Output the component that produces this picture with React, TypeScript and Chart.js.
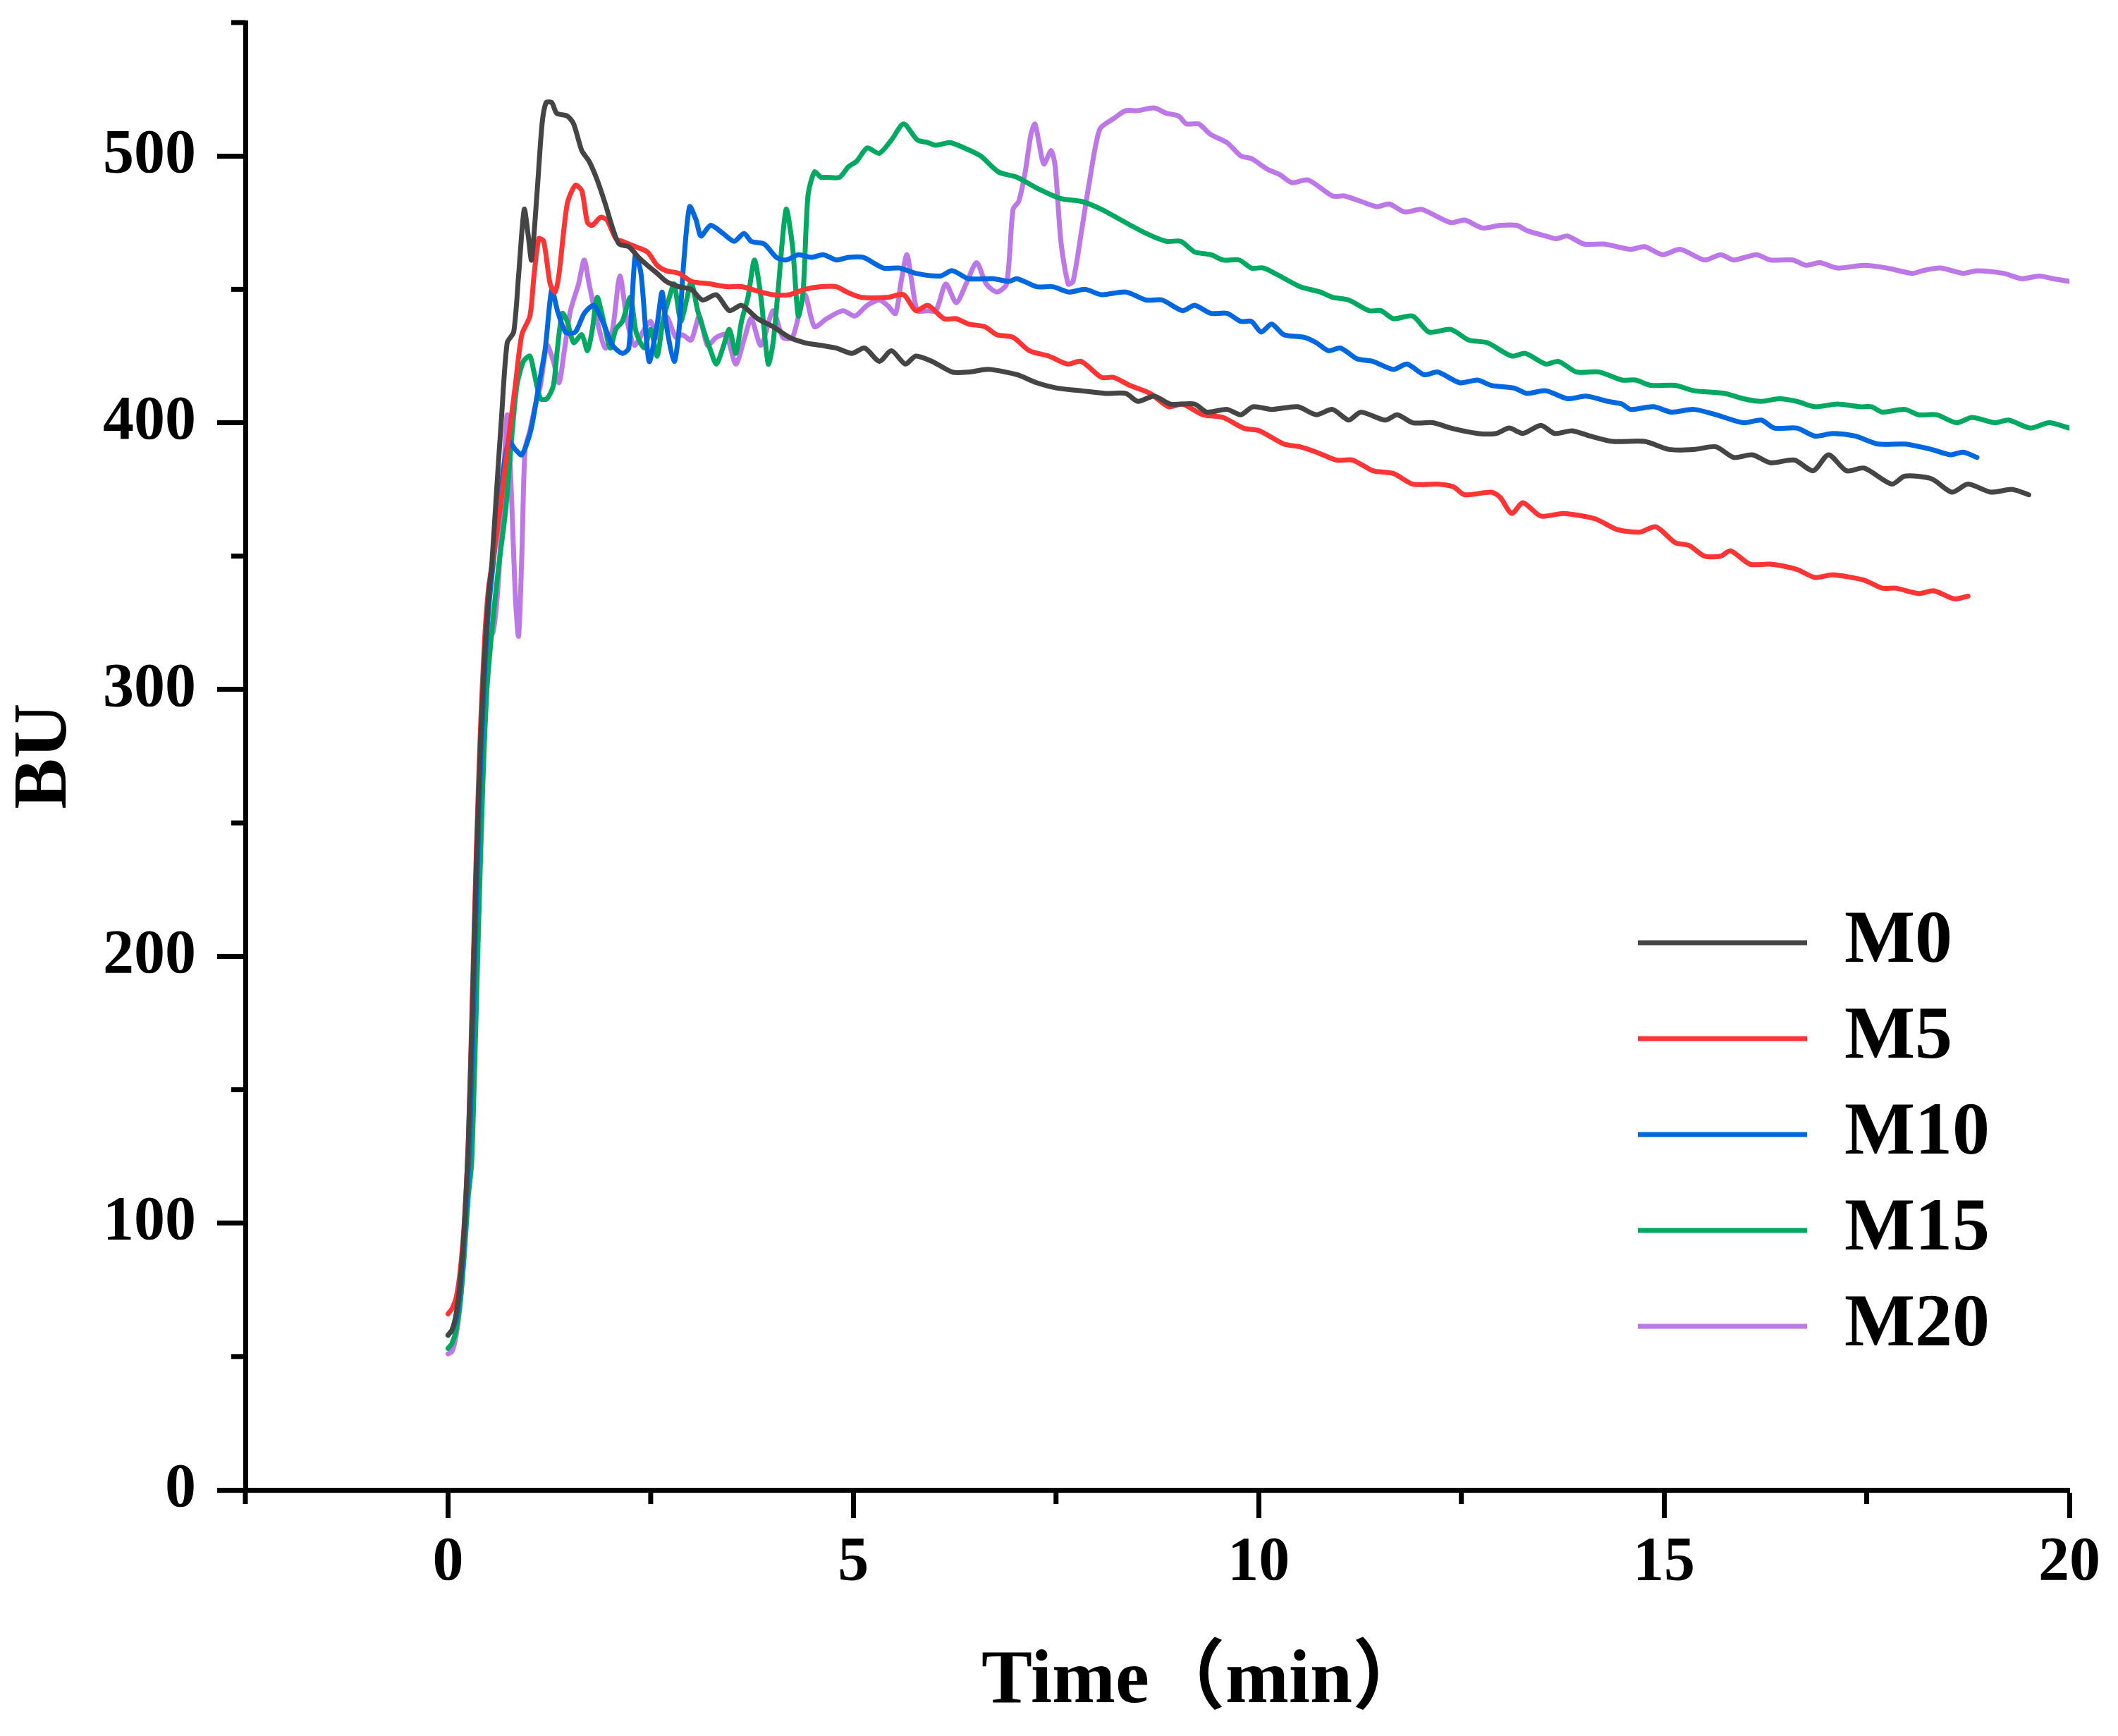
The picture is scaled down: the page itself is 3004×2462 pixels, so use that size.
import React, { useEffect, useRef } from "react";
import { Chart, registerables } from "chart.js";

Chart.register(...registerables);

// ---------- data ----------
const SERIES_NAMES = ["M0", "M5", "M10", "M15", "M20"];
const SERIES_COLORS = ["#454545", "#ff3535", "#0068de", "#00a862", "#bc78e6"];

const M0: [number, number][] = [
  [0, 58], [0.05, 60], [0.1, 66], [0.15, 78], [0.2, 98], [0.25, 130], [0.3, 180], [0.35, 235], [0.4, 280], [0.45, 312],
  [0.5, 335], [0.54, 347], [0.6, 375], [0.66, 402], [0.73, 430], [0.81, 434], [0.87, 455], [0.94, 480], [0.99, 470], [1.03, 461],
  [1.1, 487], [1.16, 512], [1.21, 520], [1.28, 520], [1.34, 516], [1.47, 515], [1.55, 512], [1.65, 502], [1.74, 498], [1.84, 491],
  [1.94, 482], [2.03, 473], [2.11, 467], [2.23, 466], [2.35, 462], [2.46, 459], [2.58, 456], [2.69, 453], [2.85, 451], [3.0, 450],
  [3.14, 446], [3.31, 448], [3.47, 442], [3.62, 444], [3.82, 439], [4.01, 436], [4.21, 432], [4.4, 430], [4.6, 429], [4.79, 428],
  [4.98, 426], [5.14, 428], [5.32, 423], [5.47, 427], [5.64, 422], [5.77, 425], [5.97, 423], [6.22, 419], [6.42, 419], [6.67, 420],
  [7.02, 418], [7.26, 415], [7.51, 413], [7.81, 412], [8.11, 411], [8.36, 411], [8.51, 408], [8.71, 410], [8.91, 407], [9.21, 407],
  [9.36, 404], [9.61, 405], [9.78, 403], [9.93, 406], [10.16, 405], [10.48, 406], [10.71, 403], [10.91, 405], [11.11, 401], [11.26, 404],
  [11.56, 401], [11.71, 403], [11.9, 400], [12.15, 400], [12.37, 398], [12.7, 396], [12.93, 396], [13.09, 398], [13.26, 396], [13.48, 399],
  [13.65, 396], [13.87, 397], [14.09, 395], [14.37, 393], [14.76, 393], [15.06, 390], [15.37, 390], [15.64, 391], [15.86, 387], [16.09, 388],
  [16.31, 385], [16.61, 386], [16.84, 382], [17.03, 388], [17.25, 382], [17.47, 383], [17.81, 377], [17.97, 380], [18.3, 379], [18.55, 374],
  [18.75, 377], [19.03, 374], [19.3, 375], [19.5, 373],
];

const M5: [number, number][] = [
  [0, 66], [0.05, 68], [0.1, 72], [0.15, 82], [0.2, 100], [0.25, 130], [0.3, 185], [0.35, 240], [0.4, 285], [0.45, 318],
  [0.5, 338], [0.56, 350], [0.64, 367], [0.73, 390], [0.83, 414], [0.91, 433], [1.01, 440], [1.06, 455], [1.12, 469], [1.18, 468],
  [1.26, 452], [1.32, 449], [1.37, 456], [1.47, 482], [1.57, 489], [1.65, 487], [1.72, 475], [1.78, 474], [1.88, 477], [1.96, 476],
  [2.07, 469], [2.15, 468], [2.31, 466], [2.46, 464], [2.58, 459], [2.69, 457], [2.85, 456], [3.0, 453], [3.24, 452], [3.43, 451],
  [3.62, 451], [3.86, 449], [4.01, 448], [4.21, 448], [4.4, 450], [4.6, 451], [4.79, 451], [4.92, 449], [5.1, 447], [5.42, 447],
  [5.62, 448], [5.77, 442], [5.92, 444], [6.12, 439], [6.27, 439], [6.42, 437], [6.62, 436], [6.77, 433], [6.97, 432], [7.17, 427],
  [7.41, 425], [7.64, 422], [7.81, 423], [8.06, 417], [8.21, 417], [8.41, 414], [8.66, 411], [8.89, 406], [9.06, 407], [9.31, 403],
  [9.56, 402], [9.81, 398], [10.01, 397], [10.31, 392], [10.51, 391], [10.71, 389], [10.96, 386], [11.16, 386], [11.41, 382], [11.66, 381],
  [11.9, 377], [12.2, 377], [12.4, 376], [12.54, 373], [12.87, 374], [12.98, 372], [13.12, 366], [13.26, 370], [13.48, 365], [13.76, 366],
  [14.15, 364], [14.42, 360], [14.7, 359], [14.9, 361], [15.14, 355], [15.31, 354], [15.5, 350], [15.7, 350], [15.82, 352], [16.06, 347],
  [16.31, 347], [16.64, 345], [16.86, 342], [17.08, 343], [17.47, 341], [17.69, 338], [17.86, 338], [18.14, 336], [18.33, 337], [18.58, 334],
  [18.75, 335],
];

const M10: [number, number][] = [
  [0, 58], [0.05, 60], [0.1, 64], [0.15, 75], [0.2, 95], [0.26, 125], [0.3, 165], [0.35, 220], [0.4, 270], [0.45, 305],
  [0.5, 330], [0.56, 348], [0.62, 365], [0.68, 382], [0.75, 393], [0.83, 390], [0.91, 388], [1.02, 397], [1.12, 414], [1.2, 428],
  [1.28, 450], [1.35, 442], [1.45, 434], [1.57, 434], [1.68, 441], [1.8, 444], [1.92, 437], [2.03, 429], [2.15, 426], [2.23, 428],
  [2.31, 463], [2.38, 456], [2.48, 423], [2.58, 437], [2.64, 449], [2.69, 437], [2.79, 423], [2.85, 435], [2.91, 461], [2.98, 481],
  [3.06, 476], [3.12, 470], [3.24, 474], [3.39, 471], [3.53, 468], [3.65, 471], [3.74, 468], [3.9, 467], [4.05, 462], [4.17, 461],
  [4.32, 463], [4.48, 462], [4.63, 463], [4.79, 461], [4.94, 462], [5.12, 462], [5.37, 458], [5.57, 458], [5.77, 456], [6.07, 455],
  [6.22, 457], [6.42, 454], [6.72, 454], [6.92, 453], [7.02, 454], [7.26, 451], [7.46, 451], [7.66, 449], [7.86, 450], [8.06, 448],
  [8.36, 449], [8.61, 446], [8.81, 446], [9.06, 442], [9.21, 444], [9.41, 441], [9.61, 441], [9.78, 438], [9.91, 438], [10.03, 434],
  [10.16, 437], [10.31, 433], [10.56, 432], [10.71, 430], [10.86, 427], [11.01, 428], [11.21, 424], [11.41, 423], [11.66, 420], [11.83, 422],
  [12.04, 418], [12.21, 419], [12.48, 415], [12.7, 416], [12.87, 414], [13.15, 413], [13.31, 411], [13.54, 412], [13.81, 409], [14.04, 410],
  [14.31, 408], [14.48, 407], [14.59, 405], [14.87, 406], [15.09, 404], [15.37, 405], [15.64, 403], [15.98, 400], [16.2, 401], [16.36, 398],
  [16.64, 398], [16.86, 395], [17.08, 396], [17.36, 395], [17.64, 392], [17.97, 392], [18.3, 390], [18.53, 388], [18.69, 389], [18.86, 387],
];

const M15: [number, number][] = [
  [0, 53], [0.05, 55], [0.1, 60], [0.15, 70], [0.2, 88], [0.25, 110], [0.29, 122], [0.33, 160], [0.38, 215], [0.43, 265],
  [0.48, 300], [0.55, 325], [0.62, 345], [0.71, 367], [0.79, 396], [0.85, 414], [0.93, 423], [1.01, 425], [1.06, 419], [1.14, 409],
  [1.22, 409], [1.3, 414], [1.35, 428], [1.41, 441], [1.47, 438], [1.55, 430], [1.65, 433], [1.72, 427], [1.78, 435], [1.84, 447],
  [1.92, 438], [2.0, 428], [2.07, 435], [2.15, 438], [2.25, 447], [2.32, 434], [2.42, 428], [2.5, 435], [2.58, 425], [2.65, 438],
  [2.73, 447], [2.79, 452], [2.87, 438], [2.95, 447], [3.0, 453], [3.08, 442], [3.16, 434], [3.24, 427], [3.31, 422], [3.39, 428],
  [3.47, 435], [3.55, 426], [3.62, 438], [3.7, 447], [3.78, 461], [3.86, 447], [3.95, 422], [4.01, 430], [4.07, 449], [4.17, 480],
  [4.25, 466], [4.32, 440], [4.38, 449], [4.44, 485], [4.52, 494], [4.6, 492], [4.67, 492], [4.83, 492], [4.94, 496], [5.04, 498],
  [5.17, 503], [5.32, 501], [5.47, 506], [5.62, 512], [5.79, 506], [5.92, 505], [6.02, 504], [6.19, 505], [6.37, 503], [6.57, 500],
  [6.79, 494], [7.02, 492], [7.26, 488], [7.56, 484], [7.81, 483], [8.06, 480], [8.36, 475], [8.61, 471], [8.86, 468], [9.04, 468],
  [9.21, 464], [9.41, 463], [9.56, 461], [9.76, 461], [9.91, 458], [10.06, 458], [10.26, 455], [10.51, 451], [10.76, 449], [10.91, 447],
  [11.11, 446], [11.36, 442], [11.51, 442], [11.66, 439], [11.9, 440], [12.1, 434], [12.37, 435], [12.59, 431], [12.82, 430], [13.12, 425],
  [13.29, 426], [13.54, 422], [13.7, 423], [13.92, 419], [14.2, 419], [14.48, 416], [14.65, 416], [14.84, 414], [15.14, 414], [15.37, 412],
  [15.75, 411], [15.98, 409], [16.2, 408], [16.42, 409], [16.64, 408], [16.86, 406], [17.14, 407], [17.42, 406], [17.56, 406], [17.69, 404],
  [17.97, 405], [18.14, 403], [18.36, 403], [18.61, 400], [18.8, 402], [19.08, 400], [19.25, 401], [19.52, 398], [19.75, 400], [20.0, 398],
];

const M20: [number, number][] = [
  [0, 51], [0.05, 52], [0.1, 58], [0.15, 70], [0.2, 90], [0.26, 122], [0.3, 160], [0.35, 215], [0.4, 265], [0.45, 300],
  [0.5, 318], [0.56, 322], [0.62, 340], [0.68, 375], [0.73, 403], [0.78, 375], [0.83, 335], [0.87, 320], [0.91, 350], [0.95, 390],
  [1.01, 397], [1.08, 407], [1.14, 414], [1.22, 429], [1.3, 423], [1.37, 415], [1.43, 426], [1.51, 442], [1.61, 452], [1.68, 461],
  [1.74, 452], [1.84, 438], [1.94, 428], [2.03, 435], [2.12, 455], [2.21, 438], [2.3, 429], [2.42, 435], [2.5, 438], [2.58, 432],
  [2.69, 440], [2.81, 432], [2.89, 433], [3.0, 431], [3.1, 440], [3.2, 429], [3.31, 432], [3.43, 433], [3.55, 422], [3.66, 432],
  [3.74, 439], [3.86, 429], [4.01, 442], [4.13, 432], [4.25, 432], [4.4, 448], [4.52, 436], [4.67, 439], [4.87, 442], [5.02, 440],
  [5.17, 444], [5.32, 446], [5.42, 444], [5.52, 441], [5.59, 453], [5.66, 463], [5.72, 453], [5.79, 442], [5.92, 442], [6.02, 442],
  [6.14, 452], [6.27, 445], [6.39, 452], [6.52, 460], [6.64, 452], [6.77, 449], [6.89, 452], [6.97, 480], [7.04, 483], [7.12, 494],
  [7.19, 508], [7.24, 512], [7.29, 505], [7.35, 497], [7.44, 502], [7.49, 496], [7.56, 468], [7.65, 452], [7.71, 453], [7.81, 471],
  [7.91, 490], [8.04, 510], [8.21, 514], [8.36, 517], [8.51, 517], [8.71, 518], [8.86, 516], [9.01, 515], [9.11, 512], [9.26, 512],
  [9.41, 508], [9.61, 505], [9.78, 500], [9.91, 499], [10.11, 495], [10.26, 493], [10.41, 490], [10.61, 491], [10.91, 485], [11.06, 485],
  [11.26, 483], [11.46, 481], [11.61, 482], [11.8, 479], [12.0, 480], [12.09, 479], [12.37, 475], [12.54, 476], [12.76, 473], [12.98, 474],
  [13.18, 474], [13.31, 472], [13.54, 470], [13.67, 469], [13.81, 470], [14.01, 467], [14.26, 467], [14.59, 465], [14.76, 466], [14.98, 463],
  [15.2, 465], [15.5, 461], [15.7, 463], [15.86, 461], [16.14, 463], [16.31, 461], [16.59, 461], [16.75, 459], [16.92, 460], [17.14, 458],
  [17.47, 459], [17.75, 458], [18.06, 456], [18.19, 457], [18.41, 458], [18.69, 456], [18.86, 457], [19.19, 456], [19.41, 454], [19.63, 455],
  [19.8, 454], [20.0, 453],
];

const SERIES_DATA = [M0, M5, M10, M15, M20];

const X_MIN = -2.5;
const X_MAX = 20;
const X_STEP = 2.5;
const X_MAJOR = 5;
const Y_MIN = 0;
const Y_MAX = 550;
const Y_STEP = 50;
const Y_MAJOR = 100;

// leading spaces only nudge the centred title to the right, as in the original
const X_TITLE = "     Time（min）";
const Y_TITLE = "BU";

// ---------- styling ----------
const W = 3004;
const H = 2462;
const FONT = "'Liberation Serif', 'Times New Roman', 'Noto Sans CJK SC', serif";
const MAJOR_LEN = 40;
const MINOR_LEN = 20;
const AXIS_W = 7;
const LINE_W = 7;

const isMajor = (v: number, step: number) => Math.abs(v / step - Math.round(v / step)) < 1e-6;

const minorTicksPlugin = {
  id: "minorTicks",
  afterDraw(chart: any) {
    const ctx = chart.ctx;
    const xs = chart.scales.x;
    const ys = chart.scales.y;
    ctx.save();
    ctx.strokeStyle = "#000";
    ctx.lineWidth = AXIS_W;
    ctx.lineCap = "butt";
    xs.ticks.forEach((t: any) => {
      if (isMajor(t.value, X_MAJOR)) return;
      const px = xs.getPixelForValue(t.value);
      ctx.beginPath();
      ctx.moveTo(px, xs.top);
      ctx.lineTo(px, xs.top + MINOR_LEN);
      ctx.stroke();
    });
    ys.ticks.forEach((t: any) => {
      if (isMajor(t.value, Y_MAJOR)) return;
      const py = ys.getPixelForValue(t.value);
      ctx.beginPath();
      ctx.moveTo(ys.right, py);
      ctx.lineTo(ys.right - MINOR_LEN, py);
      ctx.stroke();
    });
    ctx.restore();
  },
};

const legendPlacer = {
  id: "legendPlacer",
  afterLayout(chart: any) {
    const lg = chart.legend;
    if (!lg) return;
    lg.left = 2293;
    lg.top = 1254;
    lg.right = 3000;
    lg.bottom = 1995;
    lg.width = lg.right - lg.left;
    lg.height = lg.bottom - lg.top;
  },
};

export default function App() {
  const canvasRef = useRef<HTMLCanvasElement | null>(null);

  useEffect(() => {
    if (!canvasRef.current) return;
    const datasets = SERIES_NAMES.map((name, i) => ({
      label: name,
      data: SERIES_DATA[i].map(([x, y]) => ({ x, y })),
      borderColor: SERIES_COLORS[i],
      backgroundColor: SERIES_COLORS[i],
      borderWidth: LINE_W,
      pointRadius: 0,
      pointHoverRadius: 0,
      fill: false,
      tension: 0.25,
      borderJoinStyle: "round" as const,
      borderCapStyle: "round" as const,
    }));

    const chart = new Chart(canvasRef.current, {
      type: "line",
      data: { datasets },
      options: {
        responsive: true,
        maintainAspectRatio: false,
        devicePixelRatio: 1,
        animation: false,
        events: [],
        layout: { padding: { top: 32, right: 69, left: 0, bottom: 0 } },
        plugins: {
          tooltip: { enabled: false },
          legend: {
            display: true,
            position: "chartArea" as any,
            align: "start",
            labels: {
              boxWidth: 240,
              boxHeight: 7,
              padding: 30,
              color: "#000",
              font: { family: FONT, size: 106, weight: "bold" },
              generateLabels: (c: any) =>
                c.data.datasets.map((ds: any, i: number) => ({
                  text: ds.label,
                  fillStyle: ds.borderColor,
                  strokeStyle: ds.borderColor,
                  lineWidth: 0,
                  hidden: false,
                  datasetIndex: i,
                  fontColor: "#000",
                })),
            },
          },
        },
        scales: {
          x: {
            type: "linear",
            min: X_MIN,
            max: X_MAX,
            afterFit: (s: any) => {
              s.height = H - 2113;
            },
            ticks: {
              stepSize: X_STEP,
              autoSkip: false,
              maxRotation: 0,
              padding: 11,
              color: "#000",
              font: { family: FONT, size: 88, weight: "bold" },
              callback: (v: any) => (isMajor(Number(v), X_MAJOR) ? String(v) : ""),
            },
            grid: {
              display: true,
              drawOnChartArea: false,
              drawTicks: true,
              tickLength: MAJOR_LEN,
              tickWidth: AXIS_W,
              tickColor: (ctx: any) =>
                ctx.tick && isMajor(ctx.tick.value, X_MAJOR) ? "#000" : "rgba(0,0,0,0)",
            },
            border: { display: true, color: "#000", width: AXIS_W },
            title: {
              display: true,
              text: X_TITLE,
              color: "#000",
              font: { family: FONT, size: 108, weight: "bold" },
              padding: { top: 11, bottom: 11 },
            },
          },
          y: {
            type: "linear",
            min: Y_MIN,
            max: Y_MAX,
            afterFit: (s: any) => {
              s.width = 348;
            },
            ticks: {
              stepSize: Y_STEP,
              autoSkip: false,
              padding: 30,
              color: "#000",
              font: { family: FONT, size: 88, weight: "bold", lineHeight: 0.02 },
              callback: (v: any) => (isMajor(Number(v), Y_MAJOR) ? String(v) : ""),
            },
            grid: {
              display: true,
              drawOnChartArea: false,
              drawTicks: true,
              tickLength: MAJOR_LEN,
              tickWidth: AXIS_W,
              tickColor: (ctx: any) =>
                ctx.tick && isMajor(ctx.tick.value, Y_MAJOR) ? "#000" : "rgba(0,0,0,0)",
            },
            border: { display: true, color: "#000", width: AXIS_W },
            title: {
              display: true,
              text: Y_TITLE,
              color: "#000",
              font: { family: FONT, size: 108, weight: "bold" },
              padding: { top: 0, bottom: 0 },
            },
          },
        },
      },
      plugins: [minorTicksPlugin, legendPlacer],
    });

    return () => {
      chart.destroy();
    };
  }, []);

  return (
    <div
      style={{
        position: "fixed",
        left: 0,
        top: 0,
        width: W + "px",
        height: H + "px",
        background: "#fff",
      }}
    >
      <canvas ref={canvasRef} />
    </div>
  );
}
